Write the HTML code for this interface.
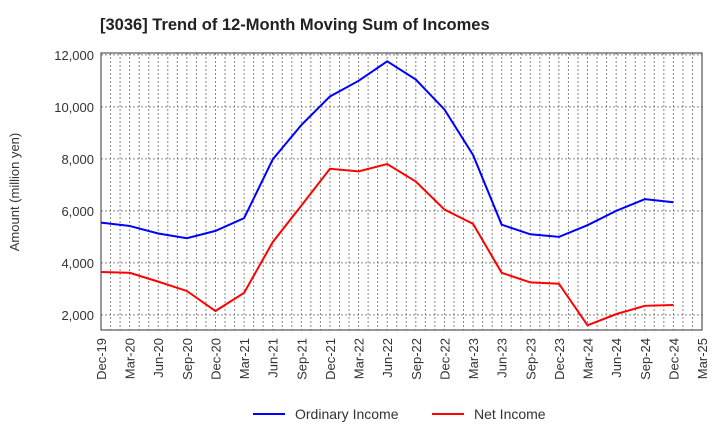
<!DOCTYPE html>
<html><head><meta charset="utf-8"><style>
body{margin:0;background:#fff;font-family:"Liberation Sans",sans-serif;}
</style></head><body>
<svg id="c" width="720" height="440" xmlns="http://www.w3.org/2000/svg"></svg>
<script>
const categories=["Dec-19","Mar-20","Jun-20","Sep-20","Dec-20","Mar-21","Jun-21","Sep-21","Dec-21","Mar-22","Jun-22","Sep-22","Dec-22","Mar-23","Jun-23","Sep-23","Dec-23","Mar-24","Jun-24","Sep-24","Dec-24","Mar-25"];
const ordinaryIncome=[5550,5420,5130,4950,5230,5720,7980,9300,10400,11000,11750,11050,9900,8150,5470,5100,5000,5450,6000,6450,6330];
const netIncome=[3650,3620,3280,2920,2150,2850,4800,6200,7620,7520,7800,7130,6050,5500,3620,3250,3200,1600,2030,2350,2380];
const yTicks=[2000,4000,6000,8000,10000,12000];
const L=101,R=702,T=53,B=330,yMin=1420,yMax=12070;
const NS="http://www.w3.org/2000/svg";
const svg=document.getElementById('c');
function x(i){return L+(R-L)*i/(categories.length-1);}
function y(v){return B-(v-yMin)/(yMax-yMin)*(B-T);}
function el(t,a,p){const e=document.createElementNS(NS,t);for(const k in a)e.setAttribute(k,a[k]);(p||svg).appendChild(e);return e;}
const title=el('text',{x:100,y:30,'font-size':16.5,'font-weight':'bold',fill:'#222'});


title.textContent='[3036]  Trend of 12-Month Moving Sum of Incomes';
const grid=el('g',{stroke:'#888','stroke-width':1,'stroke-dasharray':'2,2'});


for(let m=1;m<(categories.length-1)*3;m++){const xx=L+(R-L)*m/((categories.length-1)*3);el('line',{x1:xx,x2:xx,y1:T,y2:B},grid);}
yTicks.forEach(v=>{el('line',{x1:L,x2:R,y1:y(v),y2:y(v)},grid);
const t=el('text',{x:L-7,y:y(v)+5,'text-anchor':'end','font-size':13,fill:'#333'});


t.textContent=v.toLocaleString('en-US');});
const frame=el('rect',{x:L,y:T,width:R-L,height:B-T,fill:'none',stroke:'#333','stroke-width':1});


categories.forEach((c,i)=>{const t=el('text',{transform:`translate(${x(i)+5},${B+8}) rotate(-90)`,'text-anchor':'end','font-size':13,fill:'#333'});


t.textContent=c;});
const yt=el('text',{transform:'translate(19,192) rotate(-90)','text-anchor':'middle','font-size':13,fill:'#333'});


yt.textContent='Amount (million yen)';
function line(data,color,name){const p=el('polyline',{points:data.map((v,i)=>x(i)+','+y(v)).join(' '),fill:'none',stroke:color,'stroke-width':2});

}
line(ordinaryIncome,'#0000ff','ordinary-income-line');
line(netIncome,'#ff0000','net-income-line');
[[253,'#0000ff','Ordinary Income'],[432,'#ff0000','Net Income']].forEach(([lx,c,n])=>{
const g=el('g',{});


el('line',{x1:lx,x2:lx+32,y1:414,y2:414,stroke:c,'stroke-width':2},g);
const t=el('text',{x:lx+42,y:419,'font-size':14,fill:'#333'},g);t.textContent=n;});
</script>
</body></html>
